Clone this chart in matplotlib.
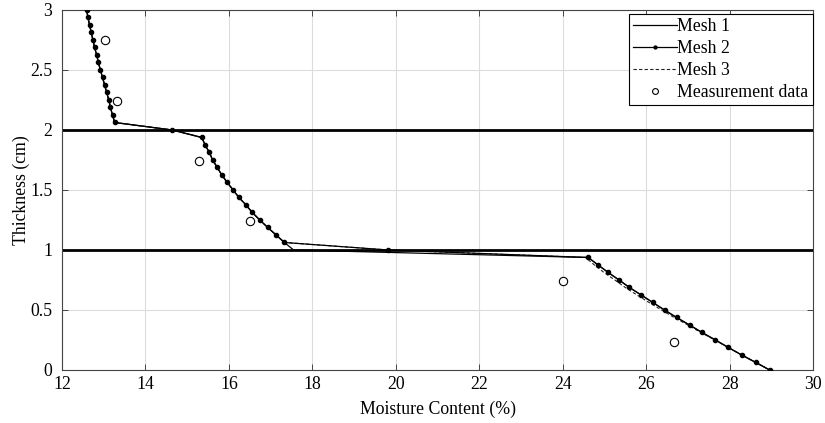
import matplotlib.pyplot as plt

plt.rcParams['font.family'] = ['Liberation Serif', 'DejaVu Serif']
plt.rcParams['font.size'] = 12.8

# node depths (cm) for the three layers plus the two interface nodes
depth_top = [3.0, 2.9375, 2.875, 2.8125, 2.75, 2.6875, 2.625, 2.5625,
             2.5, 2.4375, 2.375, 2.3125, 2.25, 2.1875, 2.125, 2.0625]
depth_mid = [1.9375, 1.875, 1.8125, 1.75, 1.6875, 1.625, 1.5625, 1.5,
             1.4375, 1.375, 1.3125, 1.25, 1.1875, 1.125, 1.0625]
depth_bot = [0.9375, 0.875, 0.8125, 0.75, 0.6875, 0.625, 0.5625, 0.5,
             0.4375, 0.375, 0.3125, 0.25, 0.1875, 0.125, 0.0625, 0.0]

# moisture content (%) at the nodes
mc_top = [12.59, 12.62, 12.66, 12.70, 12.74, 12.78, 12.83, 12.87,
          12.92, 12.97, 13.02, 13.07, 13.12, 13.16, 13.21, 13.26]
mc_mid = [15.35, 15.43, 15.53, 15.61, 15.72, 15.83, 15.96, 16.10,
          16.24, 16.41, 16.56, 16.74, 16.93, 17.13, 17.33]
mc_bot = [24.61, 24.85, 25.09, 25.35, 25.60, 25.88, 26.16, 26.44,
          26.73, 27.04, 27.34, 27.66, 27.97, 28.29, 28.63, 28.96]
mc_bot3 = [24.55, 24.76, 24.99, 25.25, 25.50, 25.78, 26.07, 26.37,
           26.67, 27.00, 27.31, 27.65, 27.97, 28.29, 28.63, 28.96]

# interface nodes
mc_if2 = 14.64
mc_if1 = 19.82
mc_if1_mesh1 = 17.55

# measurements
meas_mc = [13.03, 13.31, 15.28, 16.50, 24.00, 26.67]
meas_depth = [2.75, 2.24, 1.74, 1.24, 0.745, 0.235]

mesh2_x = mc_top + [mc_if2] + mc_mid + [mc_if1] + mc_bot
mesh2_y = depth_top + [2.0] + depth_mid + [1.0] + depth_bot
mesh1_x = mc_top + [mc_if2] + mc_mid + [mc_if1_mesh1] + mc_bot
mesh1_y = depth_top + [2.0] + depth_mid + [1.0] + depth_bot
mesh3_x = mc_top + [mc_if2] + mc_mid + [mc_if1] + mc_bot3
mesh3_y = depth_top + [2.0] + depth_mid + [1.0] + depth_bot

fig = plt.figure(figsize=(8.25, 4.23), dpi=100)
ax = fig.add_axes([0.0752, 0.1253, 0.9103, 0.8511])

ax.grid(True, color='#dcdcdc', linewidth=0.8)
ax.set_axisbelow(True)

# layer boundaries
ax.axhline(2.0, color='black', linewidth=2.0, zorder=2)
ax.axhline(1.0, color='black', linewidth=2.0, zorder=2)

ax.plot(mesh1_x, mesh1_y, color='black', linewidth=0.9, label='Mesh 1', zorder=3)
ax.plot(mesh2_x, mesh2_y, color='black', linewidth=0.9, marker='o',
        markersize=3.0, label='Mesh 2', zorder=4)
ax.plot(mesh3_x, mesh3_y, color='#222222', linewidth=0.8, linestyle=(0, (3, 2)),
        label='Mesh 3', zorder=3)
ax.plot(meas_mc, meas_depth, linestyle='none', marker='o', markersize=6,
        markerfacecolor='white', markeredgecolor='black', markeredgewidth=0.8,
        label='Measurement data', zorder=5)

ax.set_xlim(12, 30)
ax.set_ylim(0, 3)
ax.set_xticks(range(12, 31, 2))
ax.set_yticks([0, 0.5, 1, 1.5, 2, 2.5, 3])
ax.set_yticklabels(['0', '0.5', '1', '1.5', '2', '2.5', '3'])
ax.tick_params(direction='in', top=True, right=True, length=4, width=0.7,
               color='#444444')
ax.tick_params(axis='x', pad=4)
ax.tick_params(axis='y', pad=7)
for s in ax.spines.values():
    s.set_color('#444444')
    s.set_linewidth(0.8)

ax.set_xlabel('Moisture Content (%)', labelpad=6)
ax.set_ylabel('Thickness (cm)', labelpad=0)

leg = ax.legend(loc='upper right', bbox_to_anchor=(1.0, 0.99), frameon=True,
                fancybox=False, edgecolor='black', framealpha=1,
                borderaxespad=0.0, handlelength=2.5, handletextpad=0.0,
                labelspacing=0.28, borderpad=0.25, markerscale=0.7)
leg.get_frame().set_linewidth(0.8)

fig.savefig('out.png', dpi=100)
